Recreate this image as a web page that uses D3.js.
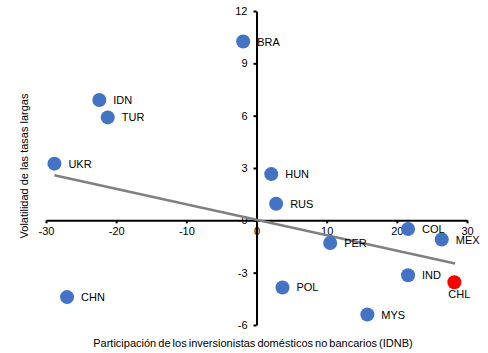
<!DOCTYPE html>
<html>
<head>
<meta charset="utf-8">
<title>IDNB vs volatilidad</title>
<script src="https://cdn.jsdelivr.net/npm/d3@7"></script>
<style>
  body { margin: 0; background: #fff; }
  svg { display: block; font-family: "Liberation Sans", Arial, sans-serif; }
  .axis path, .axis line { stroke: #000; }
  .axis text { font-size: 11px; fill: #000; }
  .lbl { font-size: 11px; fill: #000; }
  .title { font-size: 11px; fill: #000; }
</style>
</head>
<body>
<div id="chart"></div>
<script>
// country codes and their coordinates (IDNB, volatility)
var countries = ['BRA', 'IDN', 'TUR', 'UKR', 'CHN', 'HUN', 'RUS', 'COL', 'MEX', 'PER', 'IND', 'CHL', 'POL', 'MYS'];
var idnb      = [-1.9, -22.4, -21.2, -28.8, -27.0, 2.1, 2.8, 21.6, 26.4, 10.5, 21.6, 28.2, 3.7, 15.8];
var volat     = [10.25, 6.9, 5.9, 3.25, -4.4, 2.65, 0.95, -0.5, -1.1, -1.3, -3.15, -3.55, -3.85, -5.4];
var highlight = ['CHL'];

// linear trend line end points
var trendX = [-28.8, 28.3];
var trendY = [2.58, -2.48];

var xTicks = [-30, -20, -10, 0, 10, 20, 30];
var yTicks = [-6, -3, 0, 3, 6, 9, 12];

var width = 488, height = 353;

var svg = d3.select('#chart').append('svg')
    .attr('width', width)
    .attr('height', height);

var x = d3.scaleLinear().domain([-30, 30]).range([46, 467]);
var y = d3.scaleLinear().domain([-6, 12]).range([325, 11]);

// plain hyphen for negatives, like the original
var fmt = d => String(d);

// axes cross at the origin
svg.append('g')
    .attr('class', 'axis')
    .attr('transform', 'translate(0,' + y(0) + ')')
    .call(d3.axisBottom(x).tickValues(xTicks).tickFormat(fmt).tickSize(3).tickSizeOuter(0).tickPadding(4))
    .call(g => g.select('.domain').attr('stroke-width', 2))
    .call(g => g.selectAll('.tick line').attr('stroke-width', 2));

svg.append('g')
    .attr('class', 'axis')
    .attr('transform', 'translate(' + x(0) + ',0)')
    .call(d3.axisLeft(y).tickValues(yTicks).tickFormat(fmt).tickSize(3).tickSizeOuter(0).tickPadding(6))
    .call(g => g.select('.domain').attr('stroke-width', 2))
    .call(g => g.selectAll('.tick line').attr('stroke-width', 2));

// trend
svg.append('line')
    .attr('x1', x(trendX[0])).attr('y1', y(trendY[0]))
    .attr('x2', x(trendX[1])).attr('y2', y(trendY[1]))
    .attr('stroke', '#808080')
    .attr('stroke-width', 2.5);

var data = countries.map((c, i) => ({ name: c, x: idnb[i], y: volat[i] }));

svg.append('g').selectAll('circle')
    .data(data)
    .enter()
    .append('circle')
    .attr('cx', d => x(d.x))
    .attr('cy', d => y(d.y))
    .attr('r', 7)
    .attr('fill', d => highlight.includes(d.name) ? '#ff0000' : '#4472c4');

svg.append('g').selectAll('text')
    .data(data)
    .enter()
    .append('text')
    .attr('class', 'lbl')
    .attr('x', d => x(d.x) + (highlight.includes(d.name) ? -6 : 14))
    .attr('y', d => y(d.y) + (highlight.includes(d.name) ? 16 : 4))
    .text(d => d.name);

// axis titles
svg.append('text')
    .attr('class', 'title')
    .attr('x', 253)
    .attr('y', 347)
    .attr('text-anchor', 'middle')
    .attr('word-spacing', -1)
    .text('Participación de los inversionistas domésticos no bancarios (IDNB)');

svg.append('text')
    .attr('class', 'title')
    .attr('transform', 'translate(28,166) rotate(-90)')
    .attr('text-anchor', 'middle')
    .text('Volatilidad de las tasas largas');
</script>
</body>
</html>
